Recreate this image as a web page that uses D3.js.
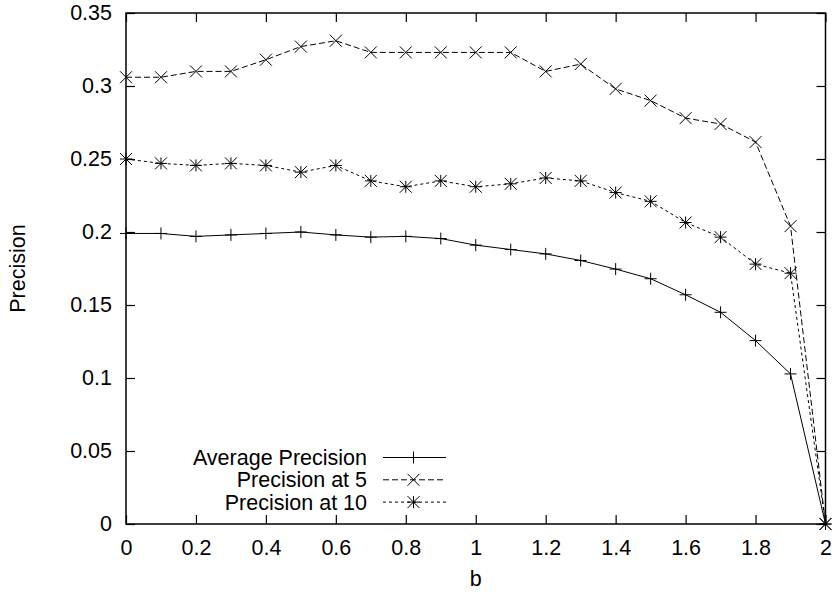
<!DOCTYPE html>
<html>
<head>
<meta charset="utf-8">
<script src="https://cdn.jsdelivr.net/npm/d3@7"></script>
<style>
  body { margin: 0; background: #fff; }
  svg text { font-family: "Liberation Sans", Arial, sans-serif; fill: #000; }
</style>
</head>
<body>
<svg id="chart" width="839" height="592"></svg>
<script>
// b values on the x axis
const bValues = [0, 0.1, 0.2, 0.3, 0.4, 0.5, 0.6, 0.7, 0.8, 0.9, 1.0,
                 1.1, 1.2, 1.3, 1.4, 1.5, 1.6, 1.7, 1.8, 1.9, 2.0];

const averagePrecision = [0.199, 0.199, 0.197, 0.198, 0.199, 0.200, 0.198, 0.1965, 0.197, 0.1955, 0.191,
                          0.188, 0.185, 0.1805, 0.1746, 0.168, 0.157, 0.145, 0.1256, 0.1028, 0];
const precisionAt5 = [0.306, 0.306, 0.310, 0.310, 0.318, 0.327, 0.331, 0.323, 0.323, 0.323, 0.323,
                      0.323, 0.310, 0.315, 0.298, 0.290, 0.278, 0.274, 0.2616, 0.204, 0];
const precisionAt10 = [0.250, 0.247, 0.2456, 0.247, 0.2456, 0.241, 0.2456, 0.235, 0.231, 0.235, 0.231,
                       0.233, 0.237, 0.235, 0.227, 0.221, 0.2065, 0.1965, 0.178, 0.1718, 0];

const seriesNames = ["Average Precision", "Precision at 5", "Precision at 10"];
const xTicks = [0, 0.2, 0.4, 0.6, 0.8, 1, 1.2, 1.4, 1.6, 1.8, 2];
const yTicks = [0, 0.05, 0.1, 0.15, 0.2, 0.25, 0.3, 0.35];

let margin = {top: 13, right: 13.5, bottom: 68, left: 126};
let width = 839 - margin.left - margin.right;
let height = 592 - margin.top - margin.bottom;

let svg = d3.select("#chart");
let plot = svg.append("g")
    .attr("transform", "translate(" + margin.left + "," + margin.top + ")");

let xScale = d3.scaleLinear().domain([0, 2]).range([0, width]);
let yScale = d3.scaleLinear().domain([0, 0.35]).range([height, 0]);

const tickLen = 9;
const fontSize = "21.5px";

/* Axes with inward ticks, mirrored on top and right */
let xAxis = d3.axisBottom(xScale).tickValues(xTicks).tickSize(-tickLen).tickPadding(16)
    .tickFormat(d3.format("~g"));
let yAxis = d3.axisLeft(yScale).tickValues(yTicks).tickSize(-tickLen).tickPadding(14)
    .tickFormat(d3.format("~g"));

plot.append("g").attr("class", "axis")
    .attr("transform", "translate(0," + height + ")")
    .call(xAxis);
plot.append("g").attr("class", "axis")
    .call(yAxis);
plot.append("g").attr("class", "axis")
    .call(d3.axisTop(xScale).tickValues(xTicks).tickSize(-tickLen).tickFormat(""));
plot.append("g").attr("class", "axis")
    .attr("transform", "translate(" + width + ",0)")
    .call(d3.axisRight(yScale).tickValues(yTicks).tickSize(-tickLen).tickFormat(""));

plot.selectAll(".axis .domain").remove();
plot.selectAll(".axis line").attr("stroke", "#000").attr("stroke-width", 1.2);
plot.selectAll(".axis text").attr("font-size", fontSize).attr("font-family", null);

/* frame */
plot.append("rect")
    .attr("width", width).attr("height", height)
    .attr("fill", "none").attr("stroke", "#000").attr("stroke-width", 1.5);

/* axis titles */
svg.append("text")
    .attr("x", margin.left + width / 2).attr("y", 586)
    .attr("text-anchor", "middle").attr("font-size", fontSize)
    .text("b");
svg.append("text")
    .attr("transform", "translate(25," + (margin.top + height / 2) + ") rotate(-90)")
    .attr("text-anchor", "middle").attr("font-size", fontSize)
    .text("Precision");

/* marker paths */
const s = 6;
const plusPath = "M" + (-s) + ",0H" + s + "M0," + (-s) + "V" + s;
const crossPath = "M" + (-s) + "," + (-s) + "L" + s + "," + s + "M" + (-s) + "," + s + "L" + s + "," + (-s);
const starPath = plusPath + crossPath;

let series = [
    {name: seriesNames[0], values: averagePrecision, dash: null, marker: plusPath},
    {name: seriesNames[1], values: precisionAt5, dash: "6,3", marker: crossPath},
    {name: seriesNames[2], values: precisionAt10, dash: "3,3", marker: starPath}
];

let line = d3.line()
    .x(function(d) { return xScale(d.x); })
    .y(function(d) { return yScale(d.y); });

series.forEach(function(ser, i) {
    let pts = bValues.map(function(b, j) { return {x: b, y: ser.values[j]}; });
    plot.append("path")
        .datum(pts)
        .attr("d", line)
        .attr("fill", "none")
        .attr("stroke", "#000")
        .attr("stroke-width", 1)
        .attr("stroke-dasharray", ser.dash);
    plot.selectAll("path.m" + i)
        .data(pts)
        .enter()
        .append("path")
        .attr("class", "m" + i)
        .attr("d", ser.marker)
        .attr("transform", function(d) { return "translate(" + xScale(d.x) + "," + yScale(d.y) + ")"; })
        .attr("fill", "none")
        .attr("stroke", "#000")
        .attr("stroke-width", 1);
});

/* legend */
let legend = svg.append("g");
series.forEach(function(ser, i) {
    let y = 457.5 + i * 22.3;
    legend.append("text")
        .attr("x", 367).attr("y", y)
        .attr("dy", "0.35em")
        .attr("text-anchor", "end")
        .attr("font-size", fontSize)
        .text(ser.name);
    legend.append("line")
        .attr("x1", 383).attr("x2", 446)
        .attr("y1", y).attr("y2", y)
        .attr("stroke", "#000").attr("stroke-width", 1)
        .attr("stroke-dasharray", ser.dash);
    legend.append("path")
        .attr("d", ser.marker)
        .attr("transform", "translate(413.5," + y + ")")
        .attr("fill", "none").attr("stroke", "#000").attr("stroke-width", 1);
});
</script>
</body>
</html>
